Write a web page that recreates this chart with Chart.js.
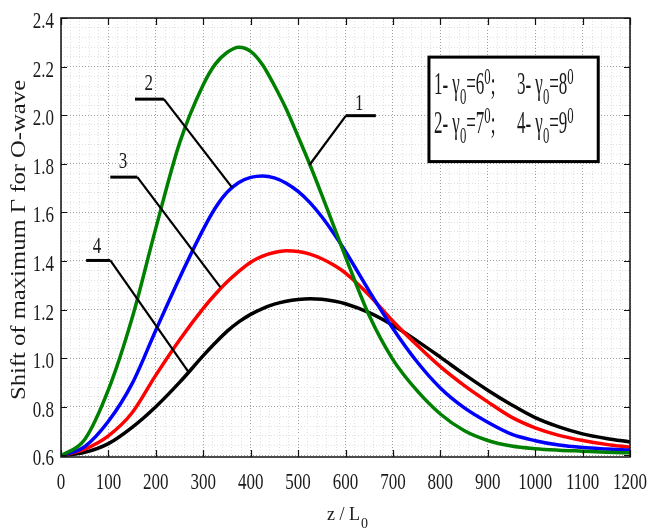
<!DOCTYPE html>
<html>
<head>
<meta charset="utf-8">
<script src="https://cdn.jsdelivr.net/npm/chart.js@4.4.1/dist/chart.umd.min.js"></script>
<style>
  html, body { margin: 0; padding: 0; background: #fff; }
  #wrap { width: 648px; height: 530px; }
</style>
</head>
<body>
<div id="wrap"><canvas id="shiftChart" width="648" height="530"></canvas></div>
<script>
// z / L0 sample points (denser round the peaks)
const zValues = [0, 50, 100, 150, 200, 250, 300,
                 325, 350, 375, 400, 425, 450, 475, 500, 525, 550, 575, 600,
                 650, 700, 750, 800, 850, 900, 950, 1000, 1050, 1100, 1150, 1200];

// shift of maximum Gamma, one list per gamma0
const gamma6 = [0.598, 0.665, 0.87, 1.165, 1.535, 1.885, 2.125,
                2.209, 2.258, 2.28, 2.263, 2.208, 2.122, 2.025, 1.912, 1.796, 1.672, 1.544, 1.417,
                1.175, 0.994, 0.868, 0.770, 0.702, 0.661, 0.638, 0.627, 0.621, 0.617, 0.613, 0.61];
const gamma7 = [0.598, 0.636, 0.74, 0.895, 1.115, 1.33, 1.53,
                1.617, 1.682, 1.723, 1.744, 1.75, 1.742, 1.72, 1.686, 1.64, 1.582, 1.514, 1.439,
                1.276, 1.122, 0.987, 0.877, 0.796, 0.736, 0.687, 0.66, 0.642, 0.632, 0.626, 0.621];
const gamma8 = [0.598, 0.625, 0.68, 0.775, 0.93, 1.075, 1.205,
                1.262, 1.313, 1.357, 1.395, 1.42, 1.435, 1.442, 1.439, 1.428, 1.409, 1.383, 1.35,
                1.259, 1.152, 1.055, 0.965, 0.888, 0.82, 0.757, 0.713, 0.682, 0.661, 0.645, 0.633];
const gamma9 = [0.598, 0.612, 0.648, 0.715, 0.80, 0.90, 1.01,
                1.062, 1.11, 1.149, 1.18, 1.204, 1.222, 1.234, 1.241, 1.244, 1.242, 1.235, 1.224,
                1.187, 1.135, 1.072, 1.004, 0.934, 0.868, 0.808, 0.755, 0.717, 0.688, 0.669, 0.655];

// tick labels
const xTicks = [0, 100, 200, 300, 400, 500, 600, 700, 800, 900, 1000, 1100, 1200];
const yTicks = [0.6, 0.8, 1.0, 1.2, 1.4, 1.6, 1.8, 2.0, 2.2, 2.4];

const SERIF = '"Liberation Serif", "DejaVu Serif", serif';
const TXT = '#1a1a1a';

function pts(ys) {
  return zValues.map((z, i) => ({ x: z, y: ys[i] }));
}

// minor grid every 20 in z and 0.04 in y
function minorTicks(lo, hi, step) {
  const out = [];
  for (let v = lo; v <= hi + 1e-9; v += step) out.push({ value: +v.toFixed(4) });
  return out;
}
function isMajor(v, step) {
  return Math.abs(v / step - Math.round(v / step)) < 1e-6;
}

// text stretched vertically like the original figure
function drawText(ctx, str, x, y, size, align, sx, sy) {
  ctx.save();
  ctx.font = size + 'px ' + SERIF;
  ctx.textAlign = align;
  ctx.textBaseline = 'alphabetic';
  ctx.fillStyle = TXT;
  ctx.translate(x, y);
  ctx.scale(sx, sy);
  ctx.fillText(str, 0, 0);
  ctx.restore();
}

// "n- γ0=k0" with subscript / superscript zeros, drawn in unscaled units
function drawGammaEntry(ctx, x, y, num, deg, tail) {
  ctx.save();
  ctx.translate(x, y);
  ctx.scale(0.85, 1.55);
  ctx.fillStyle = TXT;
  ctx.textBaseline = 'alphabetic';
  ctx.textAlign = 'left';
  let cx = 0;
  const put = (s, size, dy) => {
    ctx.font = size + 'px ' + SERIF;
    ctx.fillText(s, cx, dy);
    cx += ctx.measureText(s).width;
  };
  put(num + '- \u03b3', 20, 0);
  put('0', 15, 6.5);
  put('=' + deg, 20, 0);
  put('0', 15, -6.5);
  if (tail) put(tail, 20, 0);
  ctx.restore();
}

const leaders = [
  { label: '1', text: [629, 2.022], shelf: [601, 664, 1.998], tip: [524, 1.795] },
  { label: '2', text: [185, 2.104], shelf: [156, 217, 2.066], tip: [361, 1.702] },
  { label: '3', text: [131, 1.782], shelf: [104, 161, 1.745], tip: [336, 1.292] },
  { label: '4', text: [76, 1.432], shelf: [53, 104, 1.402], tip: [268, 0.945] }
];
const legendBox = { z0: 776, z1: 1133, yTop: 2.239, yBottom: 1.809 };

const decorations = {
  id: 'decorations',
  afterDatasetsDraw(chart) {
    const { ctx, chartArea: a } = chart;
    const xs = chart.scales.x, ys = chart.scales.y;

    // leader lines with curve numbers
    leaders.forEach(l => {
      const x0 = xs.getPixelForValue(l.shelf[0]);
      const x1 = xs.getPixelForValue(l.shelf[1]);
      const yS = ys.getPixelForValue(l.shelf[2]);
      const tx = xs.getPixelForValue(l.tip[0]);
      const ty = ys.getPixelForValue(l.tip[1]);
      const jx = l.tip[0] < l.shelf[0] ? x0 : x1;
      ctx.save();
      ctx.strokeStyle = '#000';
      ctx.lineWidth = 3;
      ctx.beginPath();
      ctx.moveTo(x0, yS);
      ctx.lineTo(x1, yS);
      ctx.stroke();
      ctx.lineWidth = 2.2;
      ctx.beginPath();
      ctx.moveTo(jx, yS);
      ctx.lineTo(tx, ty);
      ctx.stroke();
      ctx.restore();
      drawText(ctx, l.label, xs.getPixelForValue(l.text[0]), ys.getPixelForValue(l.text[1]),
               17, 'center', 1, 1.35);
    });

    // legend box
    const bx0 = xs.getPixelForValue(legendBox.z0);
    const bx1 = xs.getPixelForValue(legendBox.z1);
    const by0 = ys.getPixelForValue(legendBox.yTop);
    const by1 = ys.getPixelForValue(legendBox.yBottom);
    ctx.save();
    ctx.fillStyle = '#fff';
    ctx.fillRect(bx0, by0, bx1 - bx0, by1 - by0);
    ctx.strokeStyle = '#000';
    ctx.lineWidth = 3;
    ctx.strokeRect(bx0, by0, bx1 - bx0, by1 - by0);
    ctx.restore();
    drawGammaEntry(ctx, bx0 + 5, by0 + 37, '1', '6', ';');
    drawGammaEntry(ctx, bx0 + 88, by0 + 37, '3', '8', '');
    drawGammaEntry(ctx, bx0 + 5, by0 + 76, '2', '7', ';');
    drawGammaEntry(ctx, bx0 + 88, by0 + 76, '4', '9', '');

    // axes box and inward tick marks
    ctx.save();
    ctx.strokeStyle = '#111';
    ctx.lineWidth = 1.5;
    ctx.strokeRect(a.left, a.top, a.right - a.left, a.bottom - a.top);
    ctx.lineWidth = 1.2;
    ctx.beginPath();
    xTicks.forEach(v => {
      const px = Math.round(xs.getPixelForValue(v)) + 0.5;
      ctx.moveTo(px, a.bottom); ctx.lineTo(px, a.bottom - 7);
      ctx.moveTo(px, a.top); ctx.lineTo(px, a.top + 7);
    });
    yTicks.forEach(v => {
      const py = Math.round(ys.getPixelForValue(v)) + 0.5;
      ctx.moveTo(a.left, py); ctx.lineTo(a.left + 6, py);
      ctx.moveTo(a.right, py); ctx.lineTo(a.right - 6, py);
    });
    ctx.stroke();
    ctx.restore();
  },
  afterDraw(chart) {
    const { ctx, chartArea: a } = chart;
    const xs = chart.scales.x, ys = chart.scales.y;

    xTicks.forEach(v => {
      drawText(ctx, String(v), xs.getPixelForValue(v), a.bottom + 32, 17, 'center', 1, 1.34);
    });
    yTicks.forEach(v => {
      drawText(ctx, v.toFixed(1), a.left - 7, ys.getPixelForValue(v) + 10, 17, 'right', 1, 1.34);
    });

    // x axis title: z / L0
    ctx.save();
    ctx.font = '18px ' + SERIF;
    const w = ctx.measureText('z / L').width;
    ctx.restore();
    const cx = (a.left + a.right) / 2 - 2;
    drawText(ctx, 'z / L', cx - w / 2, 520, 18, 'left', 1, 1.1);
    drawText(ctx, '0', cx + w / 2 + 1, 528, 14, 'left', 1, 1.1);

    // y axis title
    ctx.save();
    ctx.translate(25, 240);
    ctx.rotate(-Math.PI / 2);
    ctx.scale(1.12, 1);
    ctx.font = '22px ' + SERIF;
    ctx.fillStyle = TXT;
    ctx.textAlign = 'center';
    ctx.textBaseline = 'alphabetic';
    ctx.fillText('Shift of maximum \u0393 for O-wave', 0, 0);
    ctx.restore();
  }
};

const lineStyle = { pointRadius: 0, borderWidth: 3.5, cubicInterpolationMode: 'monotone', fill: false };

new Chart(document.getElementById('shiftChart').getContext('2d'), {
  type: 'line',
  data: {
    datasets: [
      { label: '1', data: pts(gamma6), borderColor: '#008000', ...lineStyle },
      { label: '2', data: pts(gamma7), borderColor: '#0000ff', ...lineStyle },
      { label: '3', data: pts(gamma8), borderColor: '#ff0000', ...lineStyle },
      { label: '4', data: pts(gamma9), borderColor: '#000000', ...lineStyle }
    ]
  },
  options: {
    responsive: false,
    animation: false,
    layout: { padding: { left: 61, top: 18, right: 18, bottom: 73 } },
    plugins: { legend: { display: false }, tooltip: { enabled: false } },
    scales: {
      x: {
        type: 'linear', min: 0, max: 1200,
        afterBuildTicks: s => { s.ticks = minorTicks(0, 1200, 20); },
        ticks: { display: false },
        grid: {
          drawTicks: false,
          color: c => isMajor(c.tick.value, 100) ? '#a0a0a0' : '#e0e0e0'
        },
        border: { display: false, dash: [1, 2] }
      },
      y: {
        type: 'linear', min: 0.593, max: 2.4,
        afterBuildTicks: s => { s.ticks = minorTicks(0.6, 2.4, 0.04); },
        ticks: { display: false },
        grid: {
          drawTicks: false,
          color: c => isMajor(c.tick.value, 0.2) ? '#a0a0a0' : '#e0e0e0'
        },
        border: { display: false, dash: [1, 2] }
      }
    }
  },
  plugins: [decorations]
});
</script>
</body>
</html>
